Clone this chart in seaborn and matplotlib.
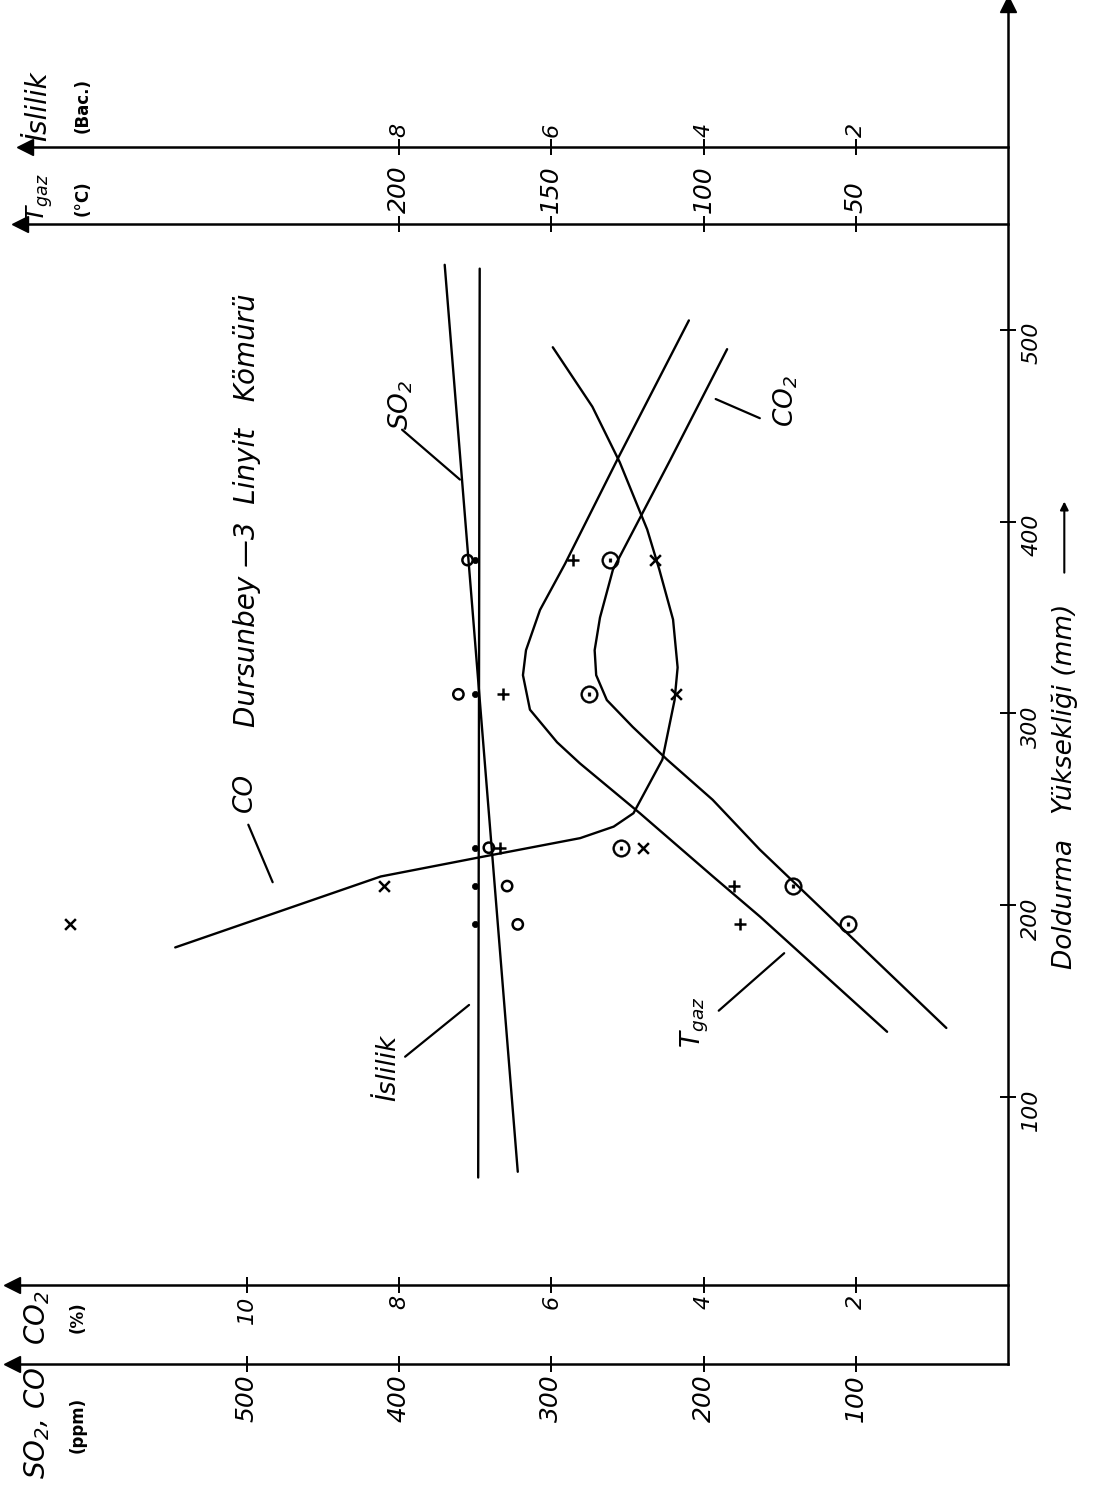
import pandas as pd
import seaborn as sns
import matplotlib.pyplot as plt

# Doldurma yüksekliği (mm) at which readings were taken
heights = [190, 210, 230, 310, 380]

# Readings
co_ppm = [616, 410, 240, 218, 232]
so2_ppm = [322, 329, 341, 361, 355]
tgaz_c = [88, 90, 167, 166, 143]
co2_pct = [2.10, 2.82, 5.08, 5.50, 5.23]
islilik_bac = [7.0, 7.0, 7.0, 7.0, 7.0]

# Hand-drawn fitted curves (mm, value)
co_line_mm = [178, 215, 225, 235, 241, 248, 276, 307, 324, 349, 375, 396, 431, 460, 491]
co_line_ppm = [547, 412, 347, 281, 259, 246, 227, 219, 217, 220, 229, 237, 255, 273, 299]
tgaz_line_mm = [134, 194, 215, 248, 274, 285, 302, 320, 333, 354, 378, 434, 505]
tgaz_line_c = [39.7, 81.4, 96.9, 120.9, 140.6, 148.1, 157.0, 159.3, 158.3, 153.7, 145.5, 127.8, 104.8]
co2_line_mm = [136, 229, 255, 276, 293, 307, 320, 333, 350, 375, 432, 490]
co2_line_pct = [0.81, 3.26, 3.88, 4.48, 4.93, 5.27, 5.41, 5.43, 5.36, 5.19, 4.44, 3.69]
so2_line_mm = [61, 534]
so2_line_ppm = [322, 370]
islilik_line_mm = [58, 532]
islilik_line_bac = [6.96, 6.94]

# all series share one horizontal scale: ppm; °C x2, % x50, Bac. x50
factor = {'CO': 1, 'SO2': 1, 'Tgaz': 2, 'CO2': 50, 'İslilik': 50}

pts = pd.concat([
    pd.DataFrame({'series': k, 'mm': heights, 'val': v})
    for k, v in [('CO', co_ppm), ('SO2', so2_ppm), ('Tgaz', tgaz_c),
                 ('CO2', co2_pct), ('İslilik', islilik_bac)]
])
pts['x'] = pts['val'] * pts['series'].map(factor)

lines = pd.concat([
    pd.DataFrame({'series': k, 'mm': m, 'val': v})
    for k, m, v in [('CO', co_line_mm, co_line_ppm), ('Tgaz', tgaz_line_mm, tgaz_line_c),
                    ('CO2', co2_line_mm, co2_line_pct), ('SO2', so2_line_mm, so2_line_ppm),
                    ('İslilik', islilik_line_mm, islilik_line_bac)]
])
lines['x'] = lines['val'] * lines['series'].map(factor)

sns.set_theme(style='ticks')
plt.rcParams['font.family'] = ['DejaVu Sans']
plt.rcParams['font.style'] = 'italic'
plt.rcParams['mathtext.default'] = 'regular'

fig = plt.figure(figsize=(10.94, 14.87), dpi=100)
ax = fig.add_axes([0, 0, 1, 1])
ax.patch.set_alpha(0)
ylo, yhi = -103.4, 672.1
ax.set_xlim(662.1, -56.5)
ax.set_ylim(ylo, yhi)

# curves
sns.lineplot(data=lines, x='x', y='mm', units='series', estimator=None, sort=False,
             orient='y', color='black', linewidth=1.7, legend=False, ax=ax)

# measured points
styles = {
    'CO': dict(marker='x', s=60, linewidth=1.8),
    'Tgaz': dict(marker='+', s=80, linewidth=1.8),
    'SO2': dict(marker='o', s=55, facecolor='none', linewidth=1.8),
    'İslilik': dict(marker='o', s=20, linewidth=0.5),
    'CO2': dict(marker='$\\odot$', s=160, linewidth=0.3),
}
for k, st in styles.items():
    sns.scatterplot(data=pts[pts['series'] == k], x='x', y='mm', color='black',
                    edgecolor='black', legend=False, ax=ax, zorder=3, **st)

lw = 1.8
tick_kw = dict(direction='inout', length=11, width=1.4, labelsize=18,
               labelrotation=90, pad=2, color='black', labelcolor='black')

# main axes: SO2/CO (ppm) bottom, Doldurma (mm) right
ax.spines[['top', 'left']].set_visible(False)
ax.spines['bottom'].set_position(('data', -39.2))
ax.spines['bottom'].set_bounds(0, 654)
ax.spines['right'].set_position(('data', 0))
ax.spines['right'].set_bounds(-39.2, 670)
for s in ['bottom', 'right']:
    ax.spines[s].set_linewidth(lw)
    ax.spines[s].set_color('black')
ax.xaxis.tick_bottom()
ax.yaxis.tick_right()
ax.set_xticks([100, 200, 300, 400, 500])
ax.set_yticks([100, 200, 300, 400, 500])
ax.tick_params(axis='both', **tick_kw)
ax.tick_params(axis='y', pad=4, labelsize=16)
ax.set_xlabel('')
ax.set_ylabel('')


def extra_axis(mm, scale, ticks, bound, size):
    loc = (mm - ylo) / (yhi - ylo)
    sec = ax.secondary_xaxis(loc, functions=(lambda p: p / scale, lambda v: v * scale))
    sec.set_xticks(ticks)
    sec.tick_params(axis='x', **{**tick_kw, 'labelsize': size})
    for s in ['top', 'bottom']:
        sec.spines[s].set_bounds(0, bound / scale)
        sec.spines[s].set_linewidth(lw)
        sec.spines[s].set_color('black')
    return sec


extra_axis(2, 50, [2, 4, 6, 8, 10], 654, 16)        # CO2 (%)
extra_axis(555.5, 2, [50, 100, 150, 200], 649, 18)  # Tgaz (°C)
extra_axis(595.2, 50, [2, 4, 6, 8], 646, 16)        # İslilik (Bac.)

# arrow heads
arrow_kw = dict(color='black', ms=11, clip_on=False, zorder=4)
ax.plot([654], [-39.2], marker='<', **arrow_kw)
ax.plot([654], [2], marker='<', **arrow_kw)
ax.plot([649], [555.5], marker='<', **arrow_kw)
ax.plot([646], [595.2], marker='<', **arrow_kw)
ax.plot([0], [670], marker='^', **arrow_kw)

txt = dict(rotation=90, ha='center', va='center', color='black')

# axis headers
ax.text(638, -70, 'SO$_2$, CO', fontsize=20, **txt)
ax.text(611, -71, '(ppm)', fontsize=12, fontweight='bold', fontstyle='normal', **txt)
ax.text(638, -15, 'CO$_2$', fontsize=20, **txt)
ax.text(611, -15, '(%)', fontsize=12, fontweight='bold', fontstyle='normal', **txt)
ax.text(636, 569, 'T$_{gaz}$', fontsize=18, **txt)
ax.text(608, 569, '(°C)', fontsize=12, fontweight='bold', fontstyle='normal', **txt)
ax.text(637, 617, 'İslilik', fontsize=20, **txt)
ax.text(608, 617, '(Bac.)', fontsize=12, fontweight='bold', fontstyle='normal', **txt)

# title and x label
ax.text(500, 406, 'Dursunbey —3  Linyit   Kömürü', fontsize=20, **txt)
ax.text(-37, 262, 'Doldurma   Yüksekliği (mm)', fontsize=19, **txt)
ax.annotate('', xy=(-37, 412), xytext=(-37, 372),
            arrowprops=dict(arrowstyle='-|>', color='black', lw=1.5))

# curve labels with leader lines
labels = {
    'CO': ((501, 259), (499, 242), (483, 212)),
    'SO$_2$': ((399, 461), (398, 448), (360, 422)),
    'CO$_2$': ((146, 463), (192, 464), (163, 454)),
    'T$_{gaz}$': ((206, 139), (190, 145), (147, 175)),
    'İslilik': ((407, 115), (396, 121), (354, 148)),
}
for name, (tp, a, b) in labels.items():
    ax.text(tp[0], tp[1], name, fontsize=19, **txt)
    ax.plot([a[0], b[0]], [a[1], b[1]], color='black', lw=1.6)

fig.savefig('out.png', dpi=100, facecolor='white')
